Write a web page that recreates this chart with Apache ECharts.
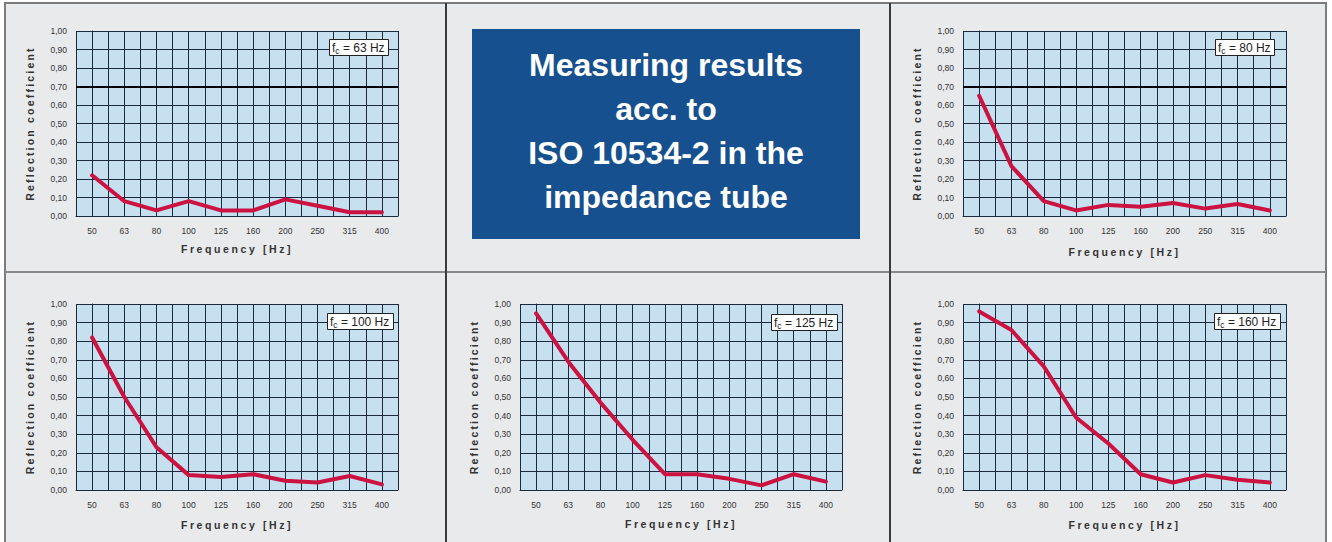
<!DOCTYPE html>
<html>
<head>
<meta charset="utf-8">
<script src="https://cdn.jsdelivr.net/npm/echarts@6/dist/echarts.min.js"></script>
<style>
html,body{margin:0;padding:0;background:#ffffff;}
#c{width:1332px;height:542px;}
</style>
</head>
<body>
<div id="c"></div>
<script>
// ---- data ----
const categories = ['50','63','80','100','125','160','200','250','315','400'];
const yTickLabels = ['0,00','0,10','0,20','0,30','0,40','0,50','0,60','0,70','0,80','0,90','1,00'];
const fcLabels = ['63 Hz','80 Hz','100 Hz','125 Hz','160 Hz'];
const fc63  = [0.22, 0.08, 0.03, 0.08, 0.03, 0.03, 0.09, 0.055, 0.02, 0.02];
const fc80  = [0.65, 0.27, 0.08, 0.03, 0.06, 0.05, 0.07, 0.04, 0.065, 0.03];
const fc100 = [0.82, 0.50, 0.23, 0.08, 0.07, 0.085, 0.05, 0.04, 0.075, 0.03];
const fc125 = [0.95, 0.69, 0.47, 0.27, 0.085, 0.085, 0.06, 0.025, 0.085, 0.045];
const fc160 = [0.96, 0.86, 0.665, 0.39, 0.25, 0.085, 0.04, 0.08, 0.055, 0.04];
const limitLine = [0.70, 0.70, null, null, null]; // thick line only in top panels
const yName = 'Reflection coefficient';
const xName = 'Frequency [Hz]';
const headline = 'Measuring results\nacc. to\nISO 10534-2 in the\nimpedance tube';

// ---- layout ----
const seriesList = [fc63, fc80, fc100, fc125, fc160];
const grids = [
  {left:76,  top:31,  width:322, height:185},
  {left:963, top:31,  width:323, height:185},
  {left:76,  top:304, width:322, height:186},
  {left:520, top:304, width:322, height:186},
  {left:963, top:304, width:323, height:186}
];
const xGaps = [27, 30, 29, 28, 29];
const boxes = [
  {left:329, top:39},
  {left:1215, top:39},
  {left:327, top:313},
  {left:771, top:314},
  {left:1214, top:313}
];

const GRID_COL = '#1b2a3f';
const LINE_COL = '#cc1240';
const LABEL_FONT = 'Liberation Sans';

const option = {
  animation: false,
  backgroundColor: '#ffffff',
  grid: grids.map(g => Object.assign({show:true, backgroundColor:'#c7e0ef', borderWidth:0, containLabel:false}, g)),
  title: boxes.map((b, i) => ({
    left: b.left, top: b.top,
    text: '{f|f}{s|c}{t| = ' + fcLabels[i] + '}',
    backgroundColor: '#ffffff',
    borderColor: '#222222',
    borderWidth: 1,
    padding: [2, 4, 1, 3],
    textStyle: {
      fontWeight: 'normal',
      rich: {
        f: {fontFamily: LABEL_FONT, fontWeight: 'normal', fontSize: 12, color: '#222', lineHeight: 14},
        s: {fontFamily: LABEL_FONT, fontWeight: 'normal', fontSize: 8.5, color: '#222', lineHeight: 14, verticalAlign: 'bottom', padding:[5,0,0,0]},
        t: {fontFamily: LABEL_FONT, fontWeight: 'normal', fontSize: 12, color: '#222', lineHeight: 14}
      }
    }
  })),
  xAxis: grids.map((g, i) => ({
    gridIndex: i,
    type: 'value',
    min: -0.5, max: 9.5, interval: 0.5,
    name: xName,
    nameLocation: 'middle',
    nameGap: xGaps[i],
    nameTextStyle: {fontFamily: LABEL_FONT, fontWeight: 'bold', fontSize: 10.5, color: '#333'},
    axisLine: {show: true, onZero: false, lineStyle: {color: GRID_COL, width: 1}},
    axisTick: {show: false},
    splitLine: {show: true, lineStyle: {color: GRID_COL, width: 1}},
    axisLabel: {
      margin: 10, fontSize: 8.5, color: '#333', fontFamily: LABEL_FONT,
      showMinLabel: true, showMaxLabel: true, hideOverlap: false,
      formatter: v => (Math.abs(v - Math.round(v)) < 1e-6 && v >= 0 && v <= 9) ? categories[Math.round(v)] : ''
    }
  })),
  yAxis: grids.map((g, i) => ({
    gridIndex: i,
    type: 'value',
    min: 0, max: 1, interval: 0.1,
    name: yName,
    nameLocation: 'middle',
    nameGap: 41,
    nameTextStyle: {fontFamily: LABEL_FONT, fontWeight: 'bold', fontSize: 10.5, color: '#333'},
    axisLine: {show: true, lineStyle: {color: GRID_COL, width: 1}},
    axisTick: {show: false},
    splitLine: {show: true, lineStyle: {color: GRID_COL, width: 1}},
    axisLabel: {
      margin: 9, fontSize: 8.5, color: '#333', fontFamily: LABEL_FONT,
      formatter: v => yTickLabels[Math.round(v * 10)]
    }
  })),
  series: seriesList.map((arr, i) => {
    const s = {
      type: 'line',
      xAxisIndex: i, yAxisIndex: i,
      data: arr.map((v, k) => [k, v]),
      showSymbol: false,
      symbol: 'none',
      lineStyle: {color: LINE_COL, width: 4, cap: 'round', join: 'round'},
      z: 5
    };
    if (limitLine[i] != null) {
      s.markLine = {
        silent: true,
        symbol: ['none', 'none'],
        label: {show: false},
        lineStyle: {color: '#000000', width: 2, type: 'solid'},
        data: [{yAxis: limitLine[i]}]
      };
    }
    return s;
  }),
  graphic: [
    {type: 'rect', z: -10, silent: true, shape: {x: 5, y: 3, width: 1321, height: 545},
      style: {fill: '#e9eaec', stroke: '#7c7c7c', lineWidth: 2}},
    {type: 'line', z: -9, silent: true, shape: {x1: 5, y1: 272, x2: 1326, y2: 272},
      style: {stroke: '#8a8a8a', lineWidth: 2}},
    {type: 'line', z: -9, silent: true, shape: {x1: 446, y1: 3, x2: 446, y2: 542},
      style: {stroke: '#3a3a3a', lineWidth: 2}},
    {type: 'line', z: -9, silent: true, shape: {x1: 890, y1: 3, x2: 890, y2: 542},
      style: {stroke: '#3a3a3a', lineWidth: 2}},
    {type: 'rect', z: -5, silent: true, shape: {x: 472, y: 29, width: 388, height: 210},
      style: {fill: '#17508f'}},
    {type: 'text', z: -4, silent: true, x: 666, y: 131,
      style: {text: headline, fill: '#ffffff', font: 'bold 32px "Liberation Sans"', align: 'center', verticalAlign: 'middle', lineHeight: 44}}
  ]
};

const chart = echarts.init(document.getElementById('c'), null, {renderer: 'svg', width: 1332, height: 542});
chart.setOption(option);

function spaceNames() {
  document.querySelectorAll('#c svg text').forEach(t => {
    const s = t.textContent;
    if (s === yName) t.style.letterSpacing = '2.2px';
    else if (s === xName) t.style.letterSpacing = '2.6px';
  });
}
spaceNames();
chart.on('finished', spaceNames);
</script>
</body>
</html>
